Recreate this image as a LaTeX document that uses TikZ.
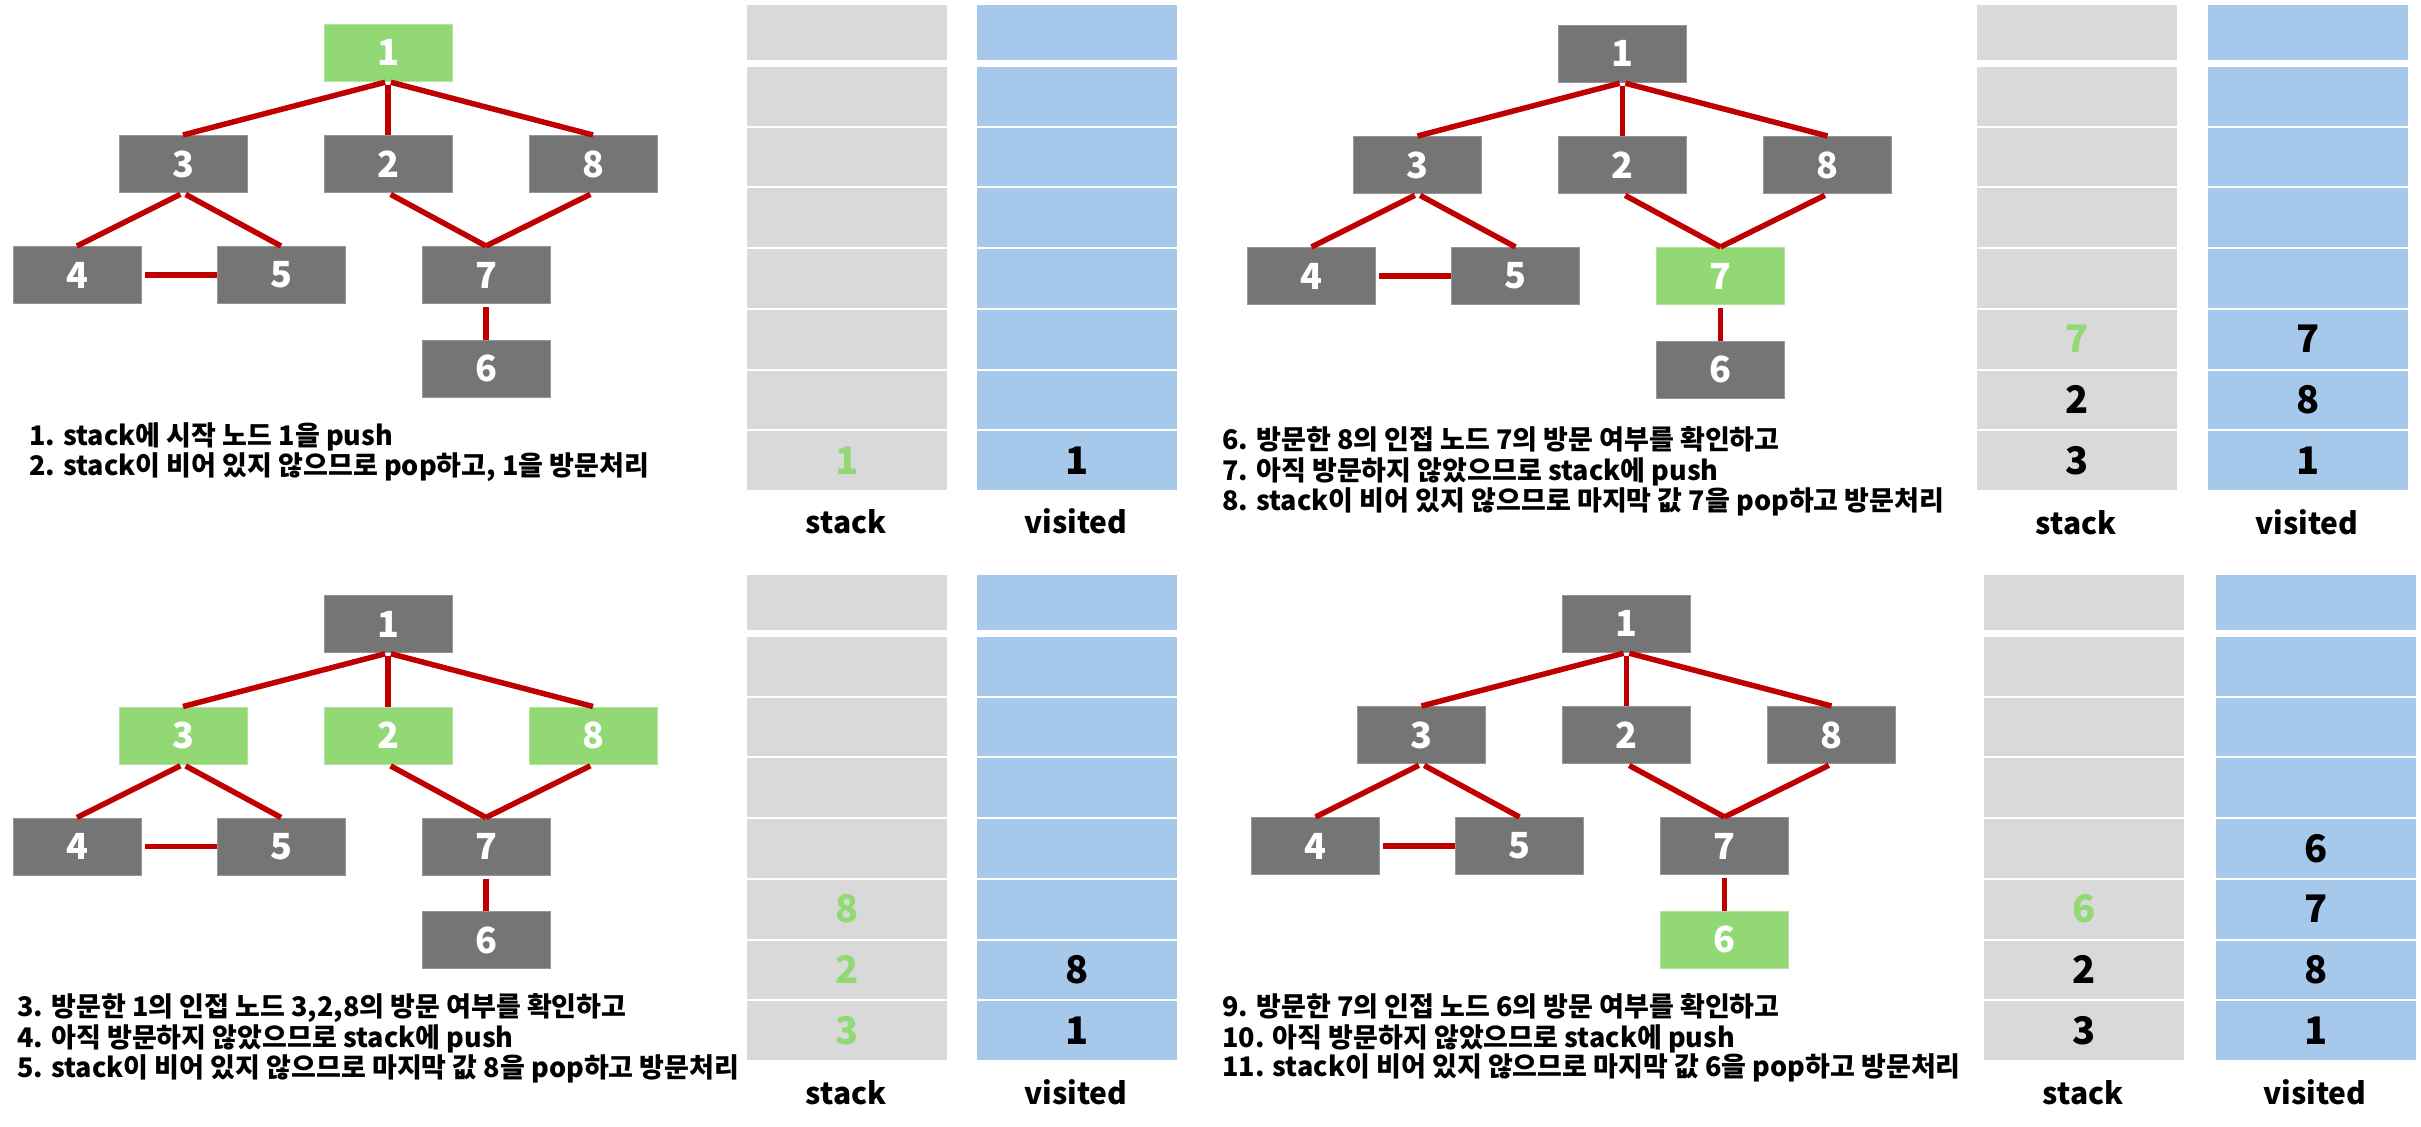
\documentclass[tikz,border=0pt]{standalone}
\usepackage{fontspec}
\setmainfont{Noto Sans CJK KR}
\definecolor{ngreen}{HTML}{92D976}
\definecolor{ngray}{HTML}{757575}
\definecolor{sgray}{HTML}{D9D9D9}
\definecolor{vblue}{HTML}{A6C9EB}
\definecolor{ered}{HTML}{C00000}
\newcommand{\gn}{\color{ngreen}}
\tikzset{
  tnode/.style={minimum width=128pt, minimum height=57pt, inner sep=0pt,
    font=\fontsize{36}{36}\selectfont\bfseries, text=white, line width=1pt},
  gnode/.style={tnode, fill=ngray, draw=ngray!75!white},
  vnode/.style={tnode, fill=ngreen, draw=ngreen!70!white},
  edge/.style={ered, line width=5.5pt, shorten <=3pt},
  cell/.style={minimum width=202pt, inner sep=0pt, draw=white, line width=2pt,
    anchor=north west, font=\fontsize{38}{38}\selectfont\bfseries},
  lbl/.style={font=\fontsize{30}{30}\selectfont\bfseries, anchor=base, inner sep=0pt},
  desc/.style={font=\fontsize{27}{30}\selectfont\bfseries, anchor=base west, inner sep=0pt},
}
\newcommand{\gtree}[7]{%
  \node[#4] (#1n1) at (#2,#3) {1};
  \node[#5] (#1n3) at ({#2-205},{#3+111.5}) {3};
  \node[#5] (#1n2) at (#2,{#3+111.5}) {2};
  \node[#5] (#1n8) at ({#2+205},{#3+111.5}) {8};
  \node[gnode] (#1n4) at ({#2-311},{#3+222.5}) {4};
  \node[gnode] (#1n5) at ({#2-107},{#3+222.5}) {5};
  \node[#6] (#1n7) at ({#2+98},{#3+222.5}) {7};
  \node[#7] (#1n6) at ({#2+98},{#3+316}) {6};
  \draw[edge] (#1n1.south) -- (#1n3.north);
  \draw[edge] (#1n1.south) -- (#1n2.north);
  \draw[edge] (#1n1.south) -- (#1n8.north);
  \draw[edge] (#1n3.south) -- (#1n4.north);
  \draw[edge] (#1n3.south) -- (#1n5.north);
  \draw[edge] (#1n2.south) -- (#1n7.north);
  \draw[edge] (#1n8.south) -- (#1n7.north);
  \draw[edge] (#1n4.east) -- (#1n5.west);
  \draw[edge] (#1n7.south) -- (#1n6.north);
}
\newcommand{\scol}[5]{%
  \node[cell, fill=#4, minimum height=57pt] (#1r1) at (#2,#3) {};
  \foreach \v [count=\i from 2] in {#5} {
    \node[cell, fill=#4, minimum height=60.7pt] (#1r\i) at (#2,{#3+62+(\i-2)*60.7}) {\v};
  }
}
\begin{document}
\begin{tikzpicture}[x=1pt,y=-1pt]
\useasboundingbox (0,0) rectangle (2421,1127);
\fill[white] (0,0) rectangle (2421,1127);

% ---------- panel 1 ----------
\gtree{a}{388}{52.5}{vnode}{gnode}{gnode}{gnode}
\scol{as}{745}{3}{sgray}{{},{},{},{},{},{},{\gn 1}}
\scol{av}{975}{3}{vblue}{{},{},{},{},{},{},1}
\node[lbl] (asl) at (846,533) {stack};
\node[lbl] (avl) at (1076,533) {visited};
\node[desc] (at1) at (29,445) {1. stack에 시작 노드 1을 push};
\node[desc] (at2) at (29,475) {2. stack이 비어 있지 않으므로 pop하고, 1을 방문처리};

% ---------- panel 2 ----------
\gtree{b}{1622.5}{53.5}{gnode}{gnode}{vnode}{gnode}
\scol{bs}{1975}{3}{sgray}{{},{},{},{},{\gn 7},2,3}
\scol{bv}{2206}{3}{vblue}{{},{},{},{},7,8,1}
\node[lbl] (bsl) at (2076,534) {stack};
\node[lbl] (bvl) at (2307,534) {visited};
\node[desc] (bt1) at (1222,449) {6. 방문한 8의 인접 노드 7의 방문 여부를 확인하고};
\node[desc] (bt2) at (1222,480) {7. 아직 방문하지 않았으므로 stack에 push};
\node[desc] (bt3) at (1222,510) {8. stack이 비어 있지 않으므로 마지막 값 7을 pop하고 방문처리};

% ---------- panel 3 ----------
\gtree{c}{388}{624}{gnode}{vnode}{gnode}{gnode}
\scol{cs}{745}{573}{sgray}{{},{},{},{},{\gn 8},{\gn 2},{\gn 3}}
\scol{cv}{975}{573}{vblue}{{},{},{},{},{},8,1}
\node[lbl] (csl) at (846,1104) {stack};
\node[lbl] (cvl) at (1076,1104) {visited};
\node[desc] (ct1) at (17,1016) {3. 방문한 1의 인접 노드 3,2,8의 방문 여부를 확인하고};
\node[desc] (ct2) at (17,1047) {4. 아직 방문하지 않았으므로 stack에 push};
\node[desc] (ct3) at (17,1077) {5. stack이 비어 있지 않으므로 마지막 값 8을 pop하고 방문처리};

% ---------- panel 4 ----------
\gtree{d}{1626.5}{623.5}{gnode}{gnode}{gnode}{vnode}
\scol{ds}{1982}{573}{sgray}{{},{},{},{},{\gn 6},2,3}
\scol{dv}{2214}{573}{vblue}{{},{},{},6,7,8,1}
\node[lbl] (dsl) at (2083,1104) {stack};
\node[lbl] (dvl) at (2315,1104) {visited};
\node[desc] (dt1) at (1222,1016) {9. 방문한 7의 인접 노드 6의 방문 여부를 확인하고};
\node[desc] (dt2) at (1222,1047) {10. 아직 방문하지 않았으므로 stack에 push};
\node[desc] (dt3) at (1222,1076) {11. stack이 비어 있지 않으므로 마지막 값 6을 pop하고 방문처리};
\end{tikzpicture}
\end{document}
